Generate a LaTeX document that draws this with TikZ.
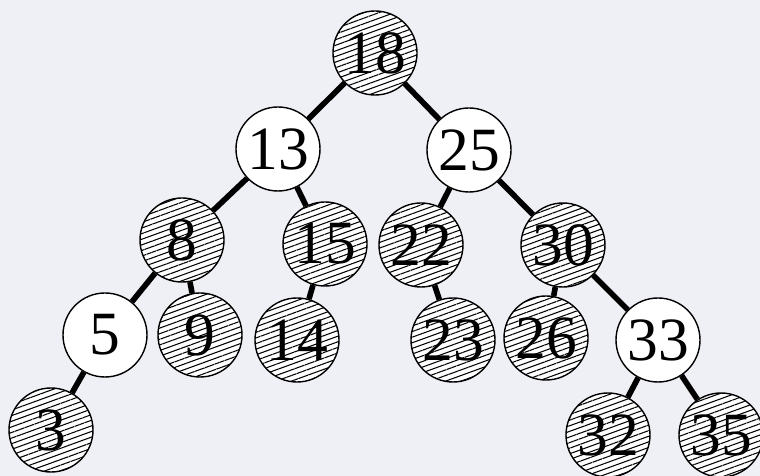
\documentclass[tikz,border=0pt]{standalone}
\usepackage{fontspec}
\setmainfont{Liberation Serif}
\usetikzlibrary{patterns.meta, backgrounds}
\definecolor{paper}{RGB}{238,240,246}

\begin{document}
\begin{tikzpicture}[x=0.2mm, y=-0.2mm,
    rb/.style={circle, draw, line width=0.8pt, inner sep=0pt, minimum size=16.8mm, font=\fontsize{35}{35}\selectfont},
    blknode/.style={rb, preaction={fill=white}, pattern={Lines[angle=20, distance=3pt, line width=0.6pt]}},
    rednode/.style={rb, fill=white},
    link/.style={line width=3.2pt},
  ]
  \useasboundingbox (0,0) rectangle (760,476);

  % level 0 and 1
  \node[blknode] (n18) at (375,53) {18};
  \node[rednode] (n13) at (278,149) {13};
  \node[rednode] (n25) at (469,150) {25};
  % level 2
  \node[blknode] (n8) at (182,240) {8};
  \node[blknode] (n15) at (325,244) {15};
  \node[blknode] (n22) at (421,245) {22};
  \node[blknode] (n30) at (563,245) {30};
  % level 3
  \node[rednode] (n5) at (105,335) {5};
  \node[blknode] (n9) at (200,335) {9};
  \node[blknode] (n14) at (297,340) {14};
  \node[blknode] (n23) at (453,340) {23};
  \node[blknode] (n26) at (546,338) {26};
  \node[rednode] (n33) at (658,340) {33};
  % level 4
  \node[blknode] (n3) at (51,430) {3};
  \node[blknode] (n32) at (608,435) {32};
  \node[blknode] (n35) at (721,435) {35};

  \begin{scope}[on background layer]
    \fill[paper] (0,0) rectangle (760,476);
    \draw[link] (n18) -- (n13);
    \draw[link] (n18) -- (n25);
    \draw[link] (n13) -- (n8);
    \draw[link] (n13) -- (n15);
    \draw[link] (n25) -- (n22);
    \draw[link] (n25) -- (n30);
    \draw[link] (n8) -- (n5);
    \draw[link] (n8) -- (n9);
    \draw[link] (n15) -- (n14);
    \draw[link] (n22) -- (n23);
    \draw[link] (n30) -- (n26);
    \draw[link] (n30) -- (n33);
    \draw[link] (n5) -- (n3);
    \draw[link] (n33) -- (n32);
    \draw[link] (n33) -- (n35);
  \end{scope}
\end{tikzpicture}
\end{document}
